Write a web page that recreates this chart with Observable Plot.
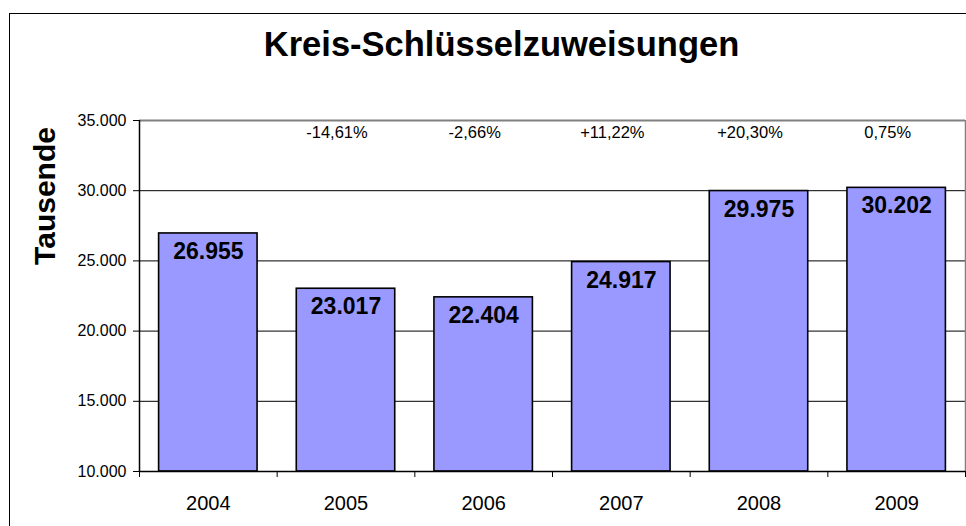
<!DOCTYPE html>
<html><head><meta charset="utf-8">
<script src="https://cdn.jsdelivr.net/npm/d3@7"></script>
<script src="https://cdn.jsdelivr.net/npm/@observablehq/plot@0.6"></script>
<style>
body{margin:0;background:#fff;}
#wrap{position:relative;width:966px;height:526px;overflow:hidden;background:#fff;}
#wrap svg{position:absolute;left:0;top:0;}
#border{position:absolute;left:9px;top:13px;width:2000px;height:2000px;border:1.5px solid #000;box-sizing:border-box;pointer-events:none;z-index:2;}
</style></head><body><div id="wrap"></div>
<script>
const title = "Kreis-Schlüsselzuweisungen";
const yLabel = "Tausende";
const years = ["2004", "2005", "2006", "2007", "2008", "2009"];
const values = [26955, 23017, 22404, 24917, 29975, 30202];
const changeYears = ["2005", "2006", "2007", "2008", "2009"];
const changeLabels = ["-14,61%", "-2,66%", "+11,22%", "+20,30%", "0,75%"];
const yTicks = [10000, 15000, 20000, 25000, 30000, 35000];

const de = d3.formatLocale({decimal: ",", thousands: ".", grouping: [3], currency: ["", " €"]});
const fmt = de.format(",.0f");

const rows = years.map((year, i) => ({i, year, value: values[i]}));
const changeRows = changeYears.map((year, k) => ({i: years.indexOf(year), label: changeLabels[k]}));
const boundaries = d3.range(years.length + 1);
const font = "Liberation Sans, Arial, sans-serif";

const chart = Plot.plot({
  width: 966,
  height: 526,
  marginTop: 120,
  marginBottom: 55,
  marginLeft: 139,
  marginRight: 1,
  style: {fontFamily: font, background: "white", color: "#000"},
  x: {type: "linear", domain: [0, years.length], range: [139, 965], axis: null},
  y: {domain: [10000, 35000], axis: null},
  marks: [
    Plot.ruleY(yTicks.slice(1, -1), {stroke: "#000", strokeWidth: 1}),
    Plot.ruleY([yTicks[yTicks.length - 1]], {stroke: "#808080", strokeWidth: 2}),
    Plot.ruleX([years.length], {stroke: "#808080", strokeWidth: 1.5}),
    Plot.rect(rows, {x1: "i", x2: d => d.i + 1, y1: yTicks[0], y2: "value", insetLeft: 19.6, insetRight: 19.6, fill: "#9999FF", stroke: "#000", strokeWidth: 1.6}),
    Plot.ruleY([yTicks[0]], {stroke: "#000", strokeWidth: 1.5}),
    Plot.ruleX([0], {stroke: "#000", strokeWidth: 1.5}),
    Plot.axisY({ticks: yTicks, tickSize: 6, tickPadding: 7, tickFormat: fmt, fontSize: 16, label: null, stroke: "#000", fill: "#000"}),
    Plot.axisX({ticks: boundaries, tickSize: 6, tickFormat: () => "", label: null, stroke: "#000"}),
    Plot.text(rows, {x: d => d.i + 0.5, frameAnchor: "bottom", text: "year", lineAnchor: "bottom", dy: 38, fontSize: 20, fill: "#000"}),
    Plot.text(rows, {x: d => d.i + 0.5, y: "value", text: d => fmt(d.value), lineAnchor: "bottom", dy: 25.5, fontSize: 23, fontWeight: "bold", fill: "#000"}),
    Plot.text(changeRows, {x: d => d.i + 0.5, frameAnchor: "top", text: "label", textAnchor: "middle", lineAnchor: "bottom", dy: 17.5, dx: -9, fontSize: 16.5, fill: "#000"}),
    Plot.text([title], {frameAnchor: "top", text: d => d, textAnchor: "middle", lineAnchor: "bottom", dy: -65, dx: -51, fontSize: 34.5, fontWeight: "bold", fill: "#000"}),
    Plot.text([yLabel], {frameAnchor: "left", text: d => d, textAnchor: "middle", lineAnchor: "middle", rotate: -90, dx: -94, dy: -100, fontSize: 30, fontWeight: "bold", fill: "#000"})
  ]
});
const wrap = document.getElementById("wrap");
wrap.appendChild(chart);
const b = document.createElement("div");
b.id = "border";
wrap.appendChild(b);
</script></body></html>
